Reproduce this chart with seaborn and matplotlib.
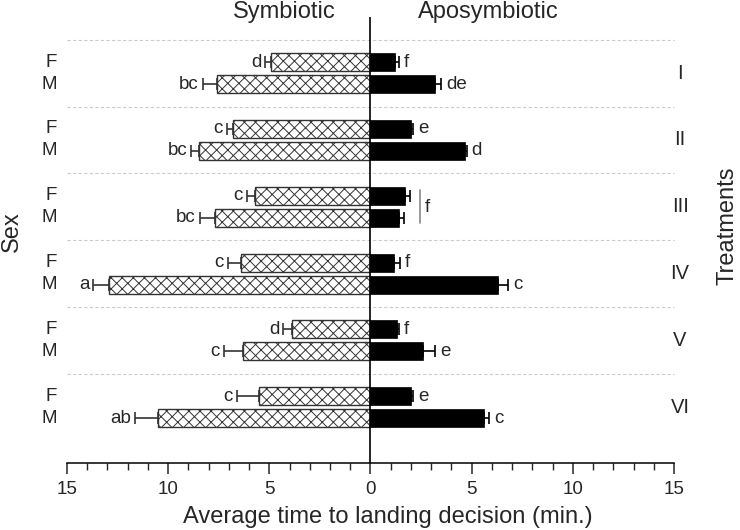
import numpy as np
import pandas as pd
import seaborn as sns
import matplotlib.pyplot as plt
from matplotlib.ticker import MultipleLocator, FuncFormatter

# dane
treatments = ['I', 'II', 'III', 'IV', 'V', 'VI']
sym_F = [4.9, 6.8, 5.7, 6.4, 3.9, 5.5]
sym_F_err = [0.3, 0.3, 0.4, 0.65, 0.4, 1.1]
sym_M = [7.6, 8.5, 7.7, 12.9, 6.3, 10.5]
sym_M_err = [0.7, 0.35, 0.75, 0.8, 0.95, 1.15]
apo_F = [1.2, 2.0, 1.7, 1.15, 1.3, 2.0]
apo_F_err = [0.2, 0.1, 0.25, 0.3, 0.1, 0.1]
apo_M = [3.2, 4.65, 1.4, 6.3, 2.6, 5.6]
apo_M_err = [0.3, 0.1, 0.25, 0.5, 0.6, 0.25]
sym_F_lab = ['d', 'c', 'c', 'c', 'd', 'c']
sym_M_lab = ['bc', 'bc', 'bc', 'a', 'c', 'ab']
apo_F_lab = ['f', 'e', '', 'f', 'f', 'e']
apo_M_lab = ['de', 'd', '', 'c', 'e', 'c']

sns.set_style('white')
plt.rcParams['font.family'] = ['Liberation Sans', 'DejaVu Sans']
fs = 13.5

pos_F = np.arange(6, dtype=float)
pos_M = pos_F + 0.33
pos = np.concatenate([pos_F, pos_M])

df_sym = pd.DataFrame({'pos': pos, 'val': -np.array(sym_F + sym_M),
                       'err': sym_F_err + sym_M_err, 'lab': sym_F_lab + sym_M_lab})
df_apo = pd.DataFrame({'pos': pos, 'val': np.array(apo_F + apo_M),
                       'err': apo_F_err + apo_M_err, 'lab': apo_F_lab + apo_M_lab})

fig = plt.figure(figsize=(7.4, 5.3), dpi=100)
ax = fig.add_axes([67/740, 1-463/530, 607/740, 451/530])

plt.rcParams['hatch.color'] = '#444444'
plt.rcParams['hatch.linewidth'] = 0.7
sns.barplot(data=df_sym, x='val', y='pos', orient='h', native_scale=True,
            color='white', edgecolor='#333333', linewidth=1.0, hatch='xxx',
            width=0.82, errorbar=None, ax=ax)
sns.barplot(data=df_apo, x='val', y='pos', orient='h', native_scale=True,
            color='black', edgecolor='black', linewidth=0.5,
            width=0.82, errorbar=None, ax=ax)

# slupki bledow
ax.errorbar(df_sym['val'], df_sym['pos'], xerr=[df_sym['err'], np.zeros(12)],
            fmt='none', ecolor='#333333', elinewidth=1.2, capsize=4.5, capthick=1.2)
ax.errorbar(df_apo['val'], df_apo['pos'], xerr=[np.zeros(12), df_apo['err']],
            fmt='none', ecolor='black', elinewidth=1.2, capsize=4.5, capthick=1.2)

for v, e, p, l in zip(df_sym['val'], df_sym['err'], df_sym['pos'], df_sym['lab']):
    ax.text(v - e - 0.2, p, l, ha='right', va='center', fontsize=fs)
for v, e, p, l in zip(df_apo['val'], df_apo['err'], df_apo['pos'], df_apo['lab']):
    ax.text(v + e + 0.25, p, l, ha='left', va='center', fontsize=fs)

# III - wspolna litera
ax.plot([2.45, 2.45], [1.92, 2.41], color='#888888', lw=1.2)
ax.text(2.67, 2.17, 'f', ha='left', va='center', fontsize=fs)

# linie przerywane miedzy grupami
for i in range(6):
    ax.plot([-15, 15], [i - 0.335, i - 0.335], color='#cccccc', lw=0.8,
            ls=(0, (3, 2)), clip_on=False)

for i, t in enumerate(treatments):
    ax.text(15.3, i + 0.165, t, ha='center', va='center', fontsize=fs + 1, clip_on=False)
    ax.text(-15.5, i, 'F', ha='right', va='center', fontsize=fs, clip_on=False)
    ax.text(-15.5, i + 0.33, 'M', ha='right', va='center', fontsize=fs, clip_on=False)

ax.vlines(0, -0.67, 6.0, color='black', lw=1.2)

ax.set_xlim(-15, 15)
ax.set_ylim(6.0, -0.75)
ax.set_yticks([])
ax.set_ylabel('')
ax.set_xlabel('')
ax.xaxis.set_major_locator(MultipleLocator(5))
ax.xaxis.set_minor_locator(MultipleLocator(1))
ax.xaxis.set_major_formatter(FuncFormatter(lambda x, p: f'{abs(x):.0f}'))
ax.tick_params(axis='x', which='major', direction='out', length=8, width=1.1,
               labelsize=fs, bottom=True, pad=5)
ax.tick_params(axis='x', which='minor', direction='out', length=5, width=1.0, bottom=True)
for s in ['left', 'right', 'top']:
    ax.spines[s].set_visible(False)
ax.spines['bottom'].set_linewidth(1.1)
ax.spines['bottom'].set_color('black')

ax.text(-4.25, -0.75, 'Symbiotic', ha='center', va='center', fontsize=17)
ax.text(5.83, -0.75, 'Aposymbiotic', ha='center', va='center', fontsize=17)
fig.text(388/740, 1-517/530, 'Average time to landing decision (min.)',
         ha='center', va='center', fontsize=17)
fig.text(12/740, 1-232/530, 'Sex', rotation=90, ha='center', va='center', fontsize=17)
fig.text(728/740, 1-226/530, 'Treatments', rotation=90, ha='center', va='center', fontsize=17)

fig.savefig('out.png', dpi=100)
